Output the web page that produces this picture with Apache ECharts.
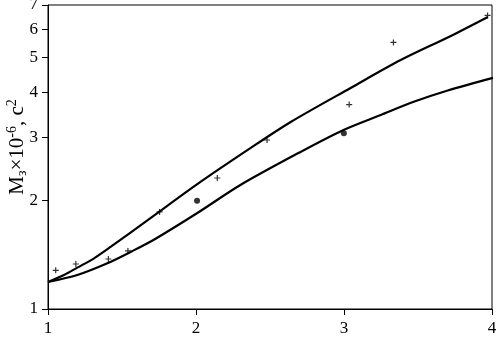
<!DOCTYPE html>
<html>
<head>
<meta charset="utf-8">
<script src="https://cdn.jsdelivr.net/npm/echarts@6/dist/echarts.min.js"></script>
<style>html,body{margin:0;padding:0;background:#fff}#c{width:497px;height:340px}</style>
</head>
<body>
<div id="c"></div>
<script>
// Curve 1 (upper)
var upperX = [1.0, 1.108, 1.198, 1.311, 1.425, 1.69, 2.03, 2.37, 2.64, 3.045, 3.383, 3.722, 3.972];
var upperY = [1.189, 1.243, 1.303, 1.383, 1.49, 1.786, 2.255, 2.804, 3.31, 4.116, 4.92, 5.74, 6.48];
// Curve 2 (lower)
var lowerX = [1.0, 1.198, 1.401, 1.571, 1.724, 2.009, 2.30, 2.706, 2.997, 3.248, 3.471, 3.701, 4.006];
var lowerY = [1.189, 1.243, 1.34, 1.45, 1.566, 1.849, 2.212, 2.733, 3.146, 3.462, 3.767, 4.05, 4.39];
// Experimental points, plus markers
var plusX = [1.052, 1.188, 1.408, 1.54, 1.754, 2.144, 2.48, 3.035, 3.334, 3.97];
var plusY = [1.281, 1.334, 1.377, 1.45, 1.861, 2.313, 2.95, 3.70, 5.51, 6.55];
// Experimental points, dots
var dotX = [2.007, 2.999, 4.008];
var dotY = [2.0, 3.08, 4.06];
// Tick values
var xTicks = [1, 2, 3, 4];
var yTicks = [1, 2, 3, 4, 5, 6, 7];

function pairs(xs, ys) { return xs.map(function (x, i) { return [x, ys[i]]; }); }

var font = 'Liberation Serif';
var chart = echarts.init(document.getElementById('c'), null, {renderer: 'canvas'});
chart.setOption({
  animation: false,
  backgroundColor: '#fff',
  grid: {left: 48, right: 5, top: 5, bottom: 31, show: true, borderColor: '#000', borderWidth: 1,
    containLabel: false, outerBoundsMode: 'none'},
  xAxis: {
    type: 'value', min: 1, max: 4, interval: 1,
    axisLine: {lineStyle: {color: '#000', width: 1}},
    axisTick: {show: true, length: 6, lineStyle: {color: '#000'}},
    axisLabel: {color: '#000', fontFamily: font, fontSize: 17, margin: 11},
    splitLine: {show: false}
  },
  yAxis: {
    type: 'log', logBase: 10, min: 1, max: 7,
    axisLine: {show: true, lineStyle: {color: '#000', width: 1}},
    axisTick: {show: true, length: 6, lineStyle: {color: '#000'}, customValues: yTicks},
    axisLabel: {color: '#000', fontFamily: font, fontSize: 17, margin: 10, customValues: yTicks,
      formatter: function (v) { return String(Math.round(v)); }},
    splitLine: {show: false}
  },
  graphic: [{
    type: 'text', x: 17, y: 147, rotation: Math.PI / 2,
    style: {
      text: '{m|M}{sub|з}{m|×10}{sup|-6}{m|, с}{sup|2}',
      align: 'center', verticalAlign: 'middle', fill: '#000', font: '21px "Liberation Serif"',
      rich: {
        m: {fontFamily: font, fontSize: 21, fill: '#000', lineHeight: 24, verticalAlign: 'middle'},
        sub: {fontFamily: font, fontSize: 14, fill: '#000', lineHeight: 24, verticalAlign: 'bottom'},
        sup: {fontFamily: font, fontSize: 14, fill: '#000', lineHeight: 24, verticalAlign: 'top'}
      }
    }
  }],
  series: [
    {type: 'line', data: pairs(upperX, upperY), smooth: 0.3, showSymbol: false, symbol: 'none',
      lineStyle: {color: '#000', width: 2.2}},
    {type: 'line', data: pairs(lowerX, lowerY), smooth: 0.3, showSymbol: false, symbol: 'none',
      lineStyle: {color: '#000', width: 2.2}},
    {type: 'scatter', data: pairs(plusX, plusY), symbol: 'path://M4,0 L6,0 L6,4 L10,4 L10,6 L6,6 L6,10 L4,10 L4,6 L0,6 L0,4 L4,4 Z',
      symbolSize: 6, itemStyle: {color: '#000'}},
    {type: 'scatter', data: pairs(dotX, dotY), symbol: 'circle', symbolSize: 6, itemStyle: {color: '#000'}}
  ]
});
</script>
</body>
</html>
